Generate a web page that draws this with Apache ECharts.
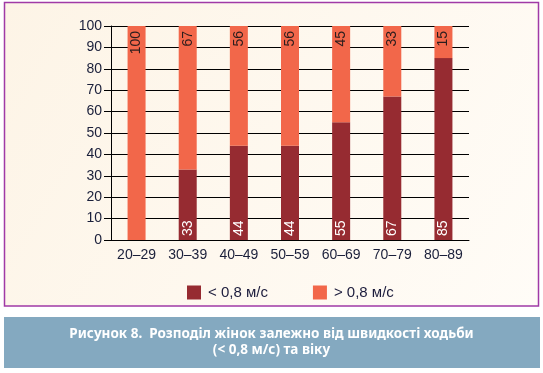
<!DOCTYPE html>
<html><head><meta charset="utf-8">
<script src="https://cdn.jsdelivr.net/npm/echarts@6/dist/echarts.min.js"></script>
<style>html,body{margin:0;padding:0;background:#fff;}#c{width:543px;height:373px;}</style>
</head><body><div id="c"></div>
<script>
const categories = ['20–29','30–39','40–49','50–59','60–69','70–79','80–89'];
const slowValues = [0, 33, 44, 44, 55, 67, 85];
const fastValues = [100, 67, 56, 56, 45, 33, 15];
const yTicks = [0,10,20,30,40,50,60,70,80,90,100];
const seriesNames = ['< 0,8 м/с', '> 0,8 м/с'];
const captionLines = ['Рисунок 8.  Розподіл жінок залежно від швидкості ходьби', '(< 0,8 м/с) та віку'];

const chart = echarts.init(document.getElementById('c'), null, {renderer:'canvas'});
const font = '"Liberation Sans", Arial, sans-serif';
const labelData = categories.map((c,i)=>[i, slowValues[i], fastValues[i]]);
chart.setOption({
  animation:false,
  graphic:[
    {type:'rect', z:-10, shape:{x:4.5,y:2.5,width:534,height:303.5},
     style:{fill:new echarts.graphic.LinearGradient(0,0,1,1,[{offset:0,color:'#fdf4e6'},{offset:1,color:'#fffcf7'}]), stroke:'#a03aa6', lineWidth:1.5}},
    {type:'rect', z:-10, shape:{x:4,y:317,width:536,height:51}, style:{fill:'#84a9c0'}},
    {type:'text', z:10, left:'center', top:326, style:{text:captionLines.join('\n'), fill:'#ffffff', font:'bold 13.5px "Noto Sans", sans-serif', textAlign:'center', lineHeight:16}}
  ],
  grid:{left:111, right:74, top:26, bottom:133, containLabel:false},
  legend:{left:182, top:280, itemWidth:14, itemHeight:14, itemGap:45, icon:'rect',
    textStyle:{fontFamily:font, fontSize:15, color:'#1c1c3c', padding:[0,0,0,2]},
    data:seriesNames},
  xAxis:{type:'category', data:categories,
    axisLine:{lineStyle:{color:'#000', width:1}}, axisTick:{show:false},
    axisLabel:{fontFamily:font, fontSize:14, color:'#1a1f3a', margin:8}},
  yAxis:{type:'value', min:0, max:100, interval:10,
    axisLine:{show:true, lineStyle:{color:'#000', width:1}},
    axisTick:{show:true, length:7, lineStyle:{color:'#000'}},
    axisLabel:{fontFamily:font, fontSize:14, color:'#1a1f3a', margin:9,
      formatter:v=> yTicks.includes(v)? String(v):''},
    splitLine:{lineStyle:{color:'#000', width:1}}},
  series:[
    {name:seriesNames[0], type:'bar', stack:'s', data:slowValues, barWidth:18, itemStyle:{color:'#962b31'}},
    {name:seriesNames[1], type:'bar', stack:'s', data:fastValues, barWidth:18, itemStyle:{color:'#f2674a'}},
    {type:'custom', z:10, data:labelData, silent:true,
     renderItem:(params, api)=>{
       const i = api.value(0), s = api.value(1), f = api.value(2);
       const base = api.coord([i, 0]);
       const top = api.coord([i, s+f]);
       const children = [];
       if (s) children.push({type:'text', x:base[0], y:base[1]-4, rotation:Math.PI/2,
         style:{text:String(s), fill:'#ffffff', font:'14px "Liberation Sans", Arial, sans-serif', align:'left', verticalAlign:'middle'}});
       if (f) children.push({type:'text', x:top[0], y:top[1]+5, rotation:Math.PI/2,
         style:{text:String(f), fill:'#2b1d1d', font:'14px "Liberation Sans", Arial, sans-serif', align:'right', verticalAlign:'middle'}});
       return {type:'group', children};
     }}
  ]
});
</script></body></html>
